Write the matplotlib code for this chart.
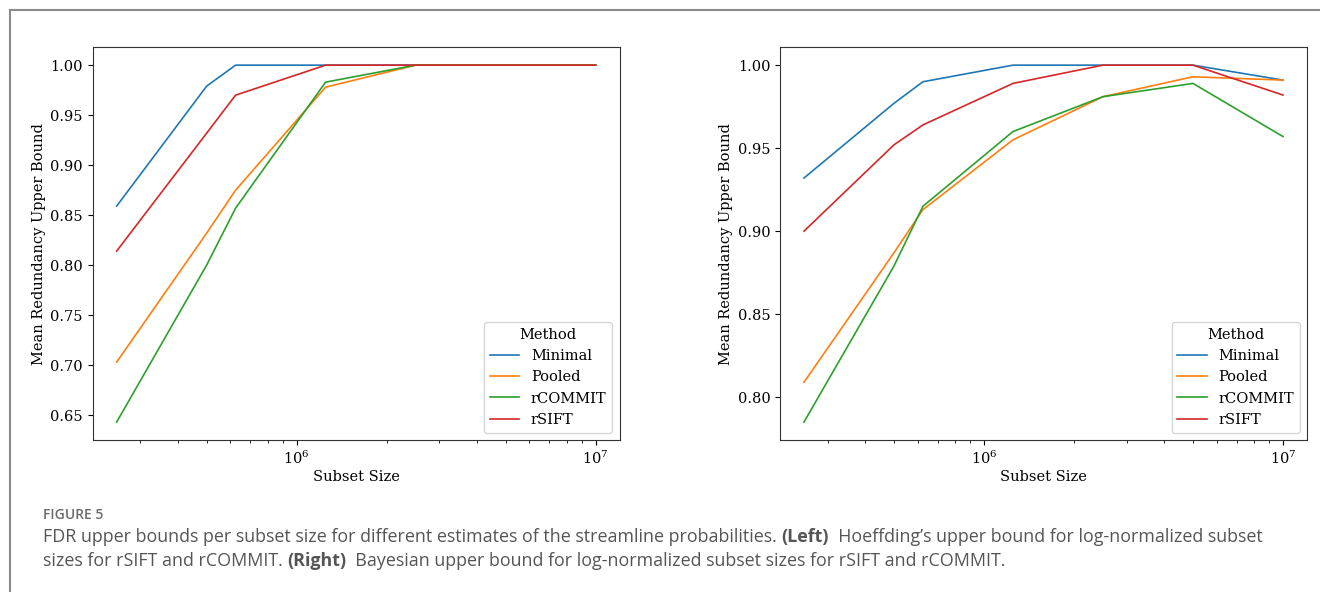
"""FDR upper bounds per subset size (Figure 5 recreation)"""

import matplotlib.pyplot as plt
from matplotlib.lines import Line2D

# Subset sizes (log x-axis)
subset_sizes = [250000, 500000, 625000, 1250000, 2500000, 5000000, 10000000]
methods = ["Minimal", "Pooled", "rCOMMIT", "rSIFT"]
colors = ["#1f77b4", "#ff7f0e", "#2ca02c", "#d62728"]

# Left: Hoeffding's upper bound
left_minimal = [0.859, 0.979, 1.0, 1.0, 1.0, 1.0, 1.0]
left_pooled = [0.703, 0.832, 0.875, 0.978, 1.0, 1.0, 1.0]
left_rcommit = [0.643, 0.800, 0.857, 0.983, 1.0, 1.0, 1.0]
left_rsift = [0.814, 0.932, 0.970, 1.0, 1.0, 1.0, 1.0]

# Right: Bayesian upper bound
right_minimal = [0.932, 0.977, 0.990, 1.0, 1.0, 1.0, 0.991]
right_pooled = [0.809, 0.887, 0.913, 0.955, 0.981, 0.993, 0.991]
right_rcommit = [0.785, 0.879, 0.915, 0.960, 0.981, 0.989, 0.957]
right_rsift = [0.900, 0.952, 0.964, 0.989, 1.0, 1.0, 0.982]

left_series = [left_minimal, left_pooled, left_rcommit, left_rsift]
right_series = [right_minimal, right_pooled, right_rcommit, right_rsift]

plt.rcParams["font.family"] = "DejaVu Serif"

fig = plt.figure(figsize=(13.2, 5.92), dpi=100)

ax_left = fig.add_axes([0.0702, 0.2568, 0.3992, 0.6633])
ax_right = fig.add_axes([0.5909, 0.2568, 0.3992, 0.6633])

for ax, series in [(ax_left, left_series), (ax_right, right_series)]:
    for name, vals, c in zip(methods, series, colors):
        ax.plot(subset_sizes, vals, color=c, linewidth=1.2, label=name)
    ax.set_xscale("log")
    ax.set_xlabel("Subset Size", fontsize=10.5, labelpad=2)
    ax.set_ylabel("Mean Redundancy Upper Bound", fontsize=10.5, labelpad=3)
    ax.tick_params(labelsize=10.5)
    for s in ax.spines.values():
        s.set_color("#333333")
    ax.legend(title="Method", loc="lower right", fontsize=10.5,
              title_fontsize=10.5)

ax_left.set_yticks([0.65, 0.70, 0.75, 0.80, 0.85, 0.90, 0.95, 1.00])
ax_right.set_yticks([0.80, 0.85, 0.90, 0.95, 1.00])

# Outer frame (left and top edges visible)
fig.add_artist(Line2D([10 / 1320, 10 / 1320], [0, 1 - 10 / 592],
                      transform=fig.transFigure, color="#8a8a8a", lw=1.5))
fig.add_artist(Line2D([10 / 1320, 1], [1 - 10 / 592, 1 - 10 / 592],
                      transform=fig.transFigure, color="#8a8a8a", lw=1.5))

# Caption
cap_font = ["Open Sans", "DejaVu Sans"]
fig.text(43 / 1320, 1 - 515 / 592, "FIGURE 5", family=cap_font, fontsize=10,
         fontweight="semibold", color="#6b6b6b", va="center")

line1_parts = [
    ("FDR upper bounds per subset size for different estimates of the streamline probabilities. ", "normal"),
    ("(Left)", "bold"),
    ("  Hoeffding\u2019s upper bound for log-normalized subset", "normal"),
]
line2_parts = [
    ("sizes for rSIFT and rCOMMIT. ", "normal"),
    ("(Right)", "bold"),
    ("  Bayesian upper bound for log-normalized subset sizes for rSIFT and rCOMMIT.", "normal"),
]

fig.canvas.draw()
renderer = fig.canvas.get_renderer()
for parts, ypix in [(line1_parts, 537), (line2_parts, 561)]:
    x = 43
    for txt, weight in parts:
        t = fig.text(x / 1320, 1 - ypix / 592, txt, family=cap_font,
                     fontsize=12.9, fontweight=weight, color="#555555",
                     va="center")
        bb = t.get_window_extent(renderer=renderer)
        x += bb.width

fig.savefig("out.png", dpi=100)
print("Created out.png")
